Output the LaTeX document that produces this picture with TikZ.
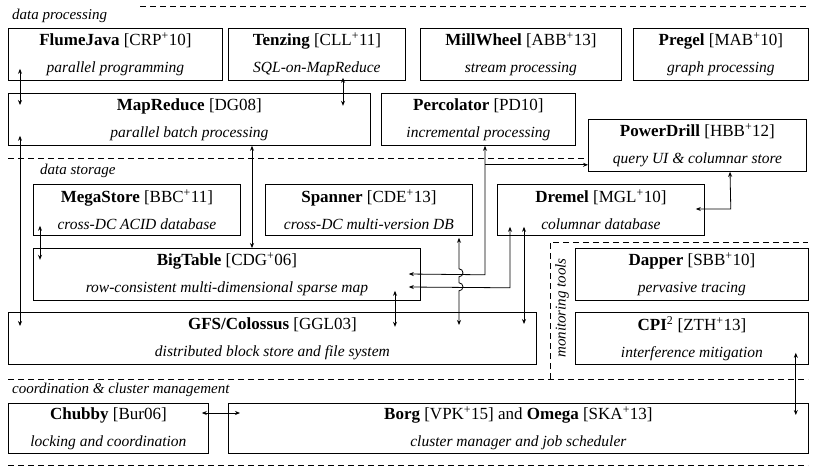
\documentclass[tikz,border=0pt]{standalone}
\usepackage{fontspec}
\setmainfont{Liberation Serif}
\usetikzlibrary{calc,arrows.meta}
\begin{document}
\begin{tikzpicture}[x=1pt,y=-1pt,
  box/.style={draw,line width=0.8pt,anchor=north west,inner sep=0pt,align=center,font=\fontsize{17}{27}\selectfont},
  sep/.style={line width=0.7pt,dash pattern=on 6pt off 4pt},
  lab/.style={font=\fontsize{15}{16}\selectfont\itshape,anchor=west,inner sep=0pt},
  con/.style={line width=0.8pt,{Stealth[length=5pt,width=4pt]}-{Stealth[length=5pt,width=4pt]}},
  one/.style={line width=0.8pt,-{Stealth[length=5pt,width=4pt]}}]
\useasboundingbox (0,0) rectangle (816,472);
\newcommand{\bx}[6]{\node[box,minimum width=#4,minimum height=#5] (#1) at (#2,#3) {#6};}
\newcommand{\st}[1]{{\fontsize{15.5}{17}\selectfont\itshape #1}}
\bx{fj}{8}{28}{214}{52}{\textbf{FlumeJava} [CRP\textsuperscript{+}10]\\ \st{parallel programming}}
\bx{tz}{228}{28}{177}{52}{\textbf{Tenzing} [CLL\textsuperscript{+}11]\\ \st{SQL-on-MapReduce}}
\bx{mw}{420}{28}{201}{52}{\textbf{MillWheel} [ABB\textsuperscript{+}13]\\ \st{stream processing}}
\bx{pg}{633}{28}{175}{52}{\textbf{Pregel} [MAB\textsuperscript{+}10]\\ \st{graph processing}}
\bx{mr}{8}{93}{362}{52}{\textbf{MapReduce} [DG08]\\ \st{parallel batch processing}}
\bx{pc}{381}{93}{194}{52}{\textbf{Percolator} [PD10]\\ \st{incremental processing}}
\bx{pd}{588}{119}{218}{52}{\textbf{PowerDrill} [HBB\textsuperscript{+}12]\\ \st{query UI \& columnar store}}
\bx{ms}{33}{184}{207}{51}{\textbf{MegaStore} [BBC\textsuperscript{+}11]\\ \st{cross-DC ACID database}}
\bx{sp}{265}{184}{207}{51}{\textbf{Spanner} [CDE\textsuperscript{+}13]\\ \st{cross-DC multi-version DB}}
\bx{dr}{497}{184}{207}{51}{\textbf{Dremel} [MGL\textsuperscript{+}10]\\ \st{columnar database}}
\bx{bt}{33}{248}{387}{52}{\textbf{BigTable} [CDG\textsuperscript{+}06]\\ \st{row-consistent multi-dimensional sparse map}}
\bx{gfs}{8}{312}{528}{52}{\textbf{GFS/Colossus} [GGL03]\\ \st{distributed block store and file system}}
\bx{dp}{575}{248}{233}{52}{\textbf{Dapper} [SBB\textsuperscript{+}10]\\ \st{pervasive tracing}}
\bx{cpi}{575}{312}{233}{52}{\textbf{CPI}\textsuperscript{2} [ZTH\textsuperscript{+}13]\\ \st{interference mitigation}}
\bx{ch}{8}{403}{200}{50}{\textbf{Chubby} [Bur06]\\ \st{locking and coordination}}
\bx{bg}{228}{403}{580}{50}{\textbf{Borg} [VPK\textsuperscript{+}15] and \textbf{Omega} [SKA\textsuperscript{+}13]\\ \st{cluster manager and job scheduler}}
% section lines and labels
\node[lab] (l1) at (12,16) {data processing};
\node[lab] (l2) at (40,171) {data storage};
\node[lab] (l3) at (12,390) {coordination \& cluster management};
\node[lab,rotate=90,anchor=center] (l4) at (562,308) {monitoring tools};
\draw[sep] (140,6) -- (808,6);
\draw[sep] (8,158) -- (588,158);
\draw[sep] (8,379) -- (808,379);
\draw[sep] (8,465) -- (808,465);
\draw[sep] (550,379) -- (550,242) -- (808,242);
% connectors
\draw[con] ($(fj.south west)+(12,-12)$) -- ($(mr.north west)+(12,12)$);
\draw[con] ($(tz.south west)+(115,-3)$) -- ($(tz.south west)+(115,25)$);
\draw[con] ($(mr.south west)+(12,-10)$) -- ($(gfs.north west)+(12,14)$);
\draw[con] ($(mr.south west)+(244,0)$) -- ($(bt.north west)+(219,0)$);
\draw[con] ($(ms.south west)+(7,-10)$) -- ($(ms.south west)+(7,24)$);
\draw[con] ($(bt.south west)+(362,-10)$) -- ($(bt.south west)+(362,26)$);
% Percolator -> BigTable and PowerDrill
\draw[con] ($(pc.south west)+(104,0)$) -- ($(pc.south west)+(104,129)$) -- ($(bt.north east)+(-12,26)$);
\draw[one] ($(pc.south west)+(104,19)$) -- ($(pd.south west)+(0,-7)$);
% Dremel
\draw[con] ($(dr.south west)+(13,-9)$) -- ($(dr.south west)+(13,52)$) -- ($(bt.north east)+(-12,39)$);
\draw[con] ($(dr.south west)+(27,-9)$) -- ($(gfs.north west)+(516,12)$);
\draw[con] ($(dr.north east)+(-9,25)$) -- ($(dr.north east)+(26,25)$) -- ($(pd.south west)+(142,0)$);
% Spanner <-> GFS with jumps
\draw[con] ($(sp.south west)+(194,2)$) -- ($(sp.south west)+(194,33)$) arc[start angle=-90,end angle=90,radius=4] -- ($(sp.south west)+(194,47)$) arc[start angle=-90,end angle=90,radius=4] -- ($(gfs.north west)+(451,13)$);
\draw[con] ($(cpi.south east)+(-13,-12)$) -- ($(bg.north east)+(-13,12)$);
\draw[con] ($(ch.north east)+(-7,10)$) -- ($(bg.north west)+(12,10)$);
\end{tikzpicture}
\end{document}
